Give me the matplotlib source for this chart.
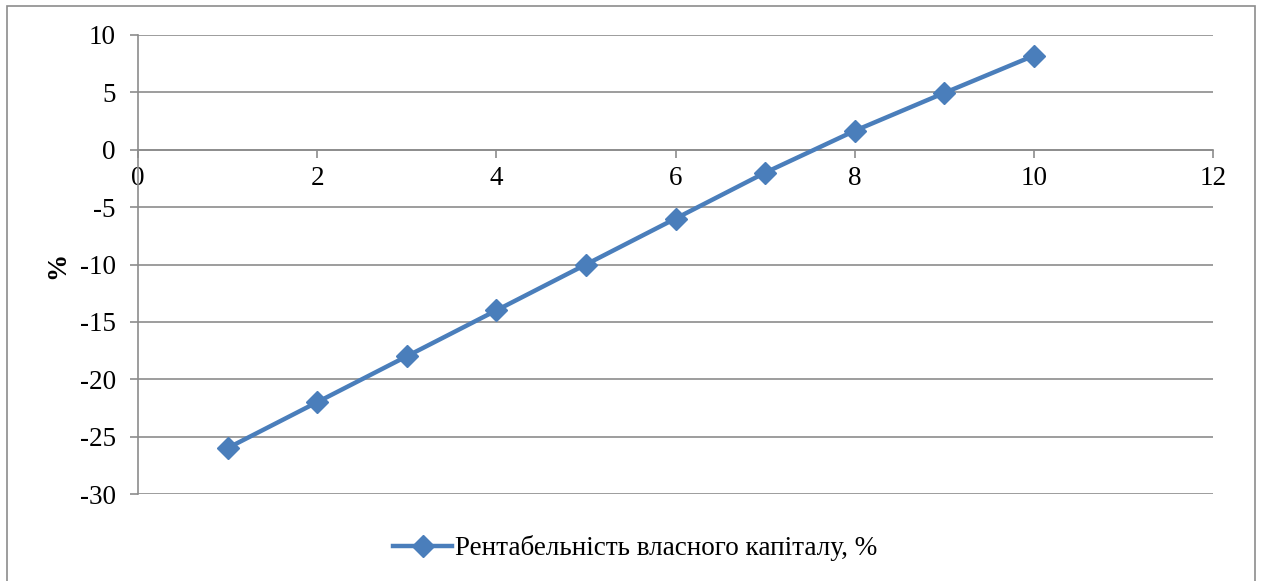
import matplotlib.pyplot as plt
from matplotlib.patches import Rectangle

# data
x_vals = [1, 2, 3, 4, 5, 6, 7, 8, 9, 10]
roe = [-26, -22, -18, -14, -10, -6, -2, 1.65, 4.95, 8.2]
series_name = 'Рентабельність власного капіталу, %'
x_ticks = [0, 2, 4, 6, 8, 10, 12]
y_ticks = [10, 5, 0, -5, -10, -15, -20, -25, -30]

plt.rcParams['font.family'] = ['Liberation Serif', 'DejaVu Serif']
W, H = 1261, 581
fig = plt.figure(figsize=(W / 100, H / 100), dpi=100)

# outer chart border
fig.patches.append(Rectangle((7 / W, -0.01), (1255 - 7) / W, (H - 6) / H + 0.01,
                             transform=fig.transFigure, fill=False,
                             edgecolor='#8c8c8c', linewidth=1.2))

left, right, top, bottom = 138, 1213, 35, 494
ax = fig.add_axes([left / W, 1 - bottom / H, (right - left) / W, (bottom - top) / H])

grid_col = '#8c8c8c'
fs = 19.5
ax.set_xlim(0, 12)
ax.set_ylim(-30, 10)
ax.set_yticks(y_ticks)
ax.set_yticklabels([str(v) for v in y_ticks])
for v in y_ticks:
    ax.axhline(v, color=grid_col, linewidth=1.2, zorder=1)

for s in ['top', 'right']:
    ax.spines[s].set_visible(False)
ax.spines['left'].set_color(grid_col)
ax.spines['left'].set_linewidth(1.2)

# x axis drawn at y = 0
ax.spines['bottom'].set_position(('data', 0))
ax.spines['bottom'].set_color(grid_col)
ax.spines['bottom'].set_linewidth(1.2)
ax.set_xticks(x_ticks)
ax.set_xticklabels([str(v) for v in x_ticks])

ax.tick_params(axis='y', length=6, width=1.2, color=grid_col, labelsize=fs, pad=10)
ax.tick_params(axis='x', length=6, width=1.2, color=grid_col, labelsize=fs, pad=6,
               direction='out')

ax.plot(x_vals, roe, color='#4a7ebb', linewidth=3.2, marker='D', markersize=11,
        zorder=3, label=series_name)

fig.text(58 / W, 1 - 265 / H, '%', rotation=90, fontsize=fs, fontweight='bold',
         ha='center', va='center')

fig.legend(loc='center', bbox_to_anchor=(635 / W, 1 - 548 / H), frameon=False,
           fontsize=fs, handlelength=2.2, handletextpad=0.1)

fig.savefig('out.png', dpi=100)
